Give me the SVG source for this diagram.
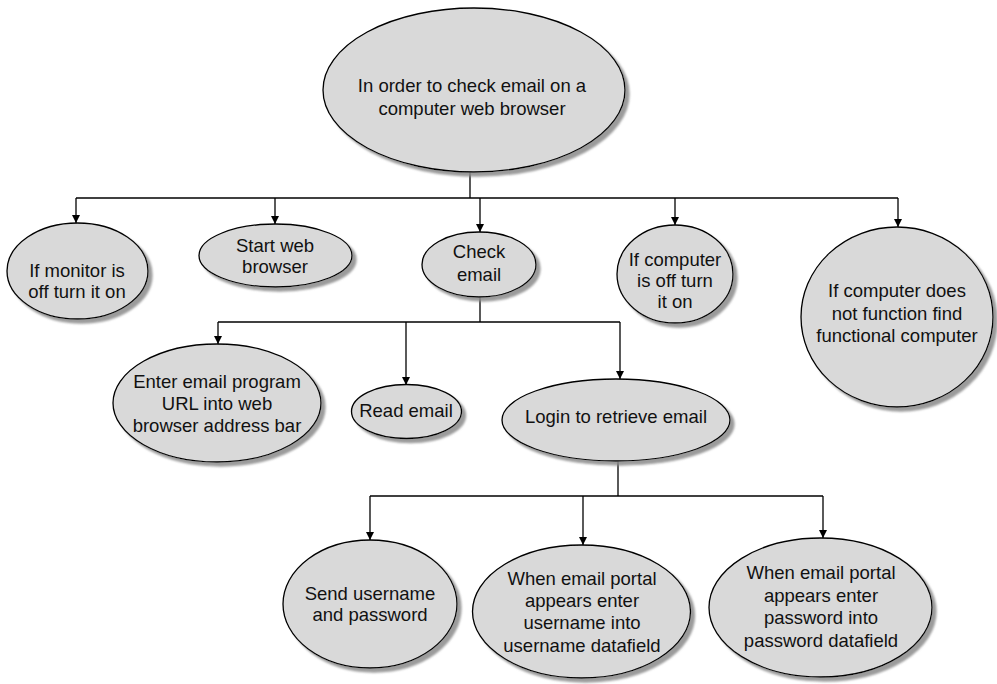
<svg xmlns="http://www.w3.org/2000/svg" width="997" height="684" viewBox="0 0 997 684">
  <style>
    .node ellipse { fill: #d9d9d9; stroke: #000; stroke-width: 1.3; filter: url(#shadow); }
    .node text { font-family: "Liberation Sans", Arial, Helvetica, sans-serif; font-size: 18.5px; fill: #111; text-anchor: middle; }
    #connectors path { fill: none; stroke: #000; stroke-width: 1.3; }
    #connectors .arrow { marker-end: url(#head); }
  </style>
  <defs>
    <filter id="shadow" x="-10%" y="-10%" width="125%" height="125%">
      <feGaussianBlur in="SourceAlpha" stdDeviation="1.2" result="b"/>
      <feOffset in="b" dx="4" dy="4" result="o"/>
      <feFlood flood-color="#8a8a8a" flood-opacity="0.85"/>
      <feComposite in2="o" operator="in" result="s"/>
      <feMerge>
        <feMergeNode in="s"/>
        <feMergeNode in="SourceGraphic"/>
      </feMerge>
    </filter>
    <marker id="head" markerUnits="userSpaceOnUse" markerWidth="10" markerHeight="14" refX="8" refY="4" orient="auto">
      <path d="M0,0 L8,4 L0,8 z" fill="#000"/>
    </marker>
  </defs>

  <rect width="997" height="684" fill="#fff"/>

  <!-- connectors -->
  <g id="connectors">
    <path d="M470,172 V198"/>
    <path d="M76,198 H898"/>
    <path class="arrow" d="M76,198 V223"/>
    <path class="arrow" d="M275,198 V224"/>
    <path class="arrow" d="M480,198 V232"/>
    <path class="arrow" d="M675,198 V225"/>
    <path class="arrow" d="M898,198 V227"/>

    <path d="M480,297 V322"/>
    <path d="M218,322 H620"/>
    <path class="arrow" d="M218,322 V344"/>
    <path class="arrow" d="M406,322 V385"/>
    <path class="arrow" d="M620,322 V379"/>

    <path d="M618,461 V496"/>
    <path d="M370,496 H823"/>
    <path class="arrow" d="M370,496 V540"/>
    <path class="arrow" d="M583,496 V545"/>
    <path class="arrow" d="M823,496 V538"/>
  </g>

  <!-- top level -->
  <g id="root" class="node">
    <ellipse cx="474" cy="90" rx="151" ry="82"/>
    <text x="472" y="92">In order to check email on a</text>
    <text x="472" y="115">computer web browser</text>
  </g>

  <!-- second level -->
  <g id="monitor" class="node">
    <ellipse cx="77.5" cy="271" rx="70.5" ry="48"/>
    <text x="77" y="277">If monitor is</text>
    <text x="77" y="298">off turn it on</text>
  </g>
  <g id="browser" class="node">
    <ellipse cx="275.5" cy="255.5" rx="76.5" ry="31.5"/>
    <text x="275" y="252">Start web</text>
    <text x="275" y="273">browser</text>
  </g>
  <g id="check" class="node">
    <ellipse cx="479" cy="264.5" rx="57" ry="32.5"/>
    <text x="479" y="258">Check</text>
    <text x="479" y="281">email</text>
  </g>
  <g id="computer-on" class="node">
    <ellipse cx="675" cy="274" rx="58" ry="49"/>
    <text x="675" y="266">If computer</text>
    <text x="675" y="287">is off turn</text>
    <text x="675" y="308">it on</text>
  </g>
  <g id="computer-find" class="node">
    <ellipse cx="897" cy="317" rx="96" ry="90"/>
    <text x="897" y="297">If computer does</text>
    <text x="897" y="320">not function find</text>
    <text x="897" y="342">functional computer</text>
  </g>

  <!-- third level -->
  <g id="enter-url" class="node">
    <ellipse cx="217" cy="403" rx="104" ry="59"/>
    <text x="217" y="388">Enter email program</text>
    <text x="217" y="410">URL into web</text>
    <text x="217" y="432">browser address bar</text>
  </g>
  <g id="read" class="node">
    <ellipse cx="406.5" cy="411.5" rx="55" ry="27"/>
    <text x="406" y="417">Read email</text>
  </g>
  <g id="login" class="node">
    <ellipse cx="616" cy="420" rx="114" ry="41"/>
    <text x="616" y="423">Login to retrieve email</text>
  </g>

  <!-- fourth level -->
  <g id="send" class="node">
    <ellipse cx="370" cy="604" rx="87" ry="64"/>
    <text x="370" y="600">Send username</text>
    <text x="370" y="621">and password</text>
  </g>
  <g id="username" class="node">
    <ellipse cx="581.5" cy="611.5" rx="109" ry="66.5"/>
    <text x="582" y="585">When email portal</text>
    <text x="582" y="607">appears enter</text>
    <text x="582" y="629">username into</text>
    <text x="582" y="652">username datafield</text>
  </g>
  <g id="password" class="node">
    <ellipse cx="820.5" cy="607.5" rx="111.5" ry="69.5"/>
    <text x="821" y="579">When email portal</text>
    <text x="821" y="602">appears enter</text>
    <text x="821" y="624">password into</text>
    <text x="821" y="647">password datafield</text>
  </g>
</svg>
